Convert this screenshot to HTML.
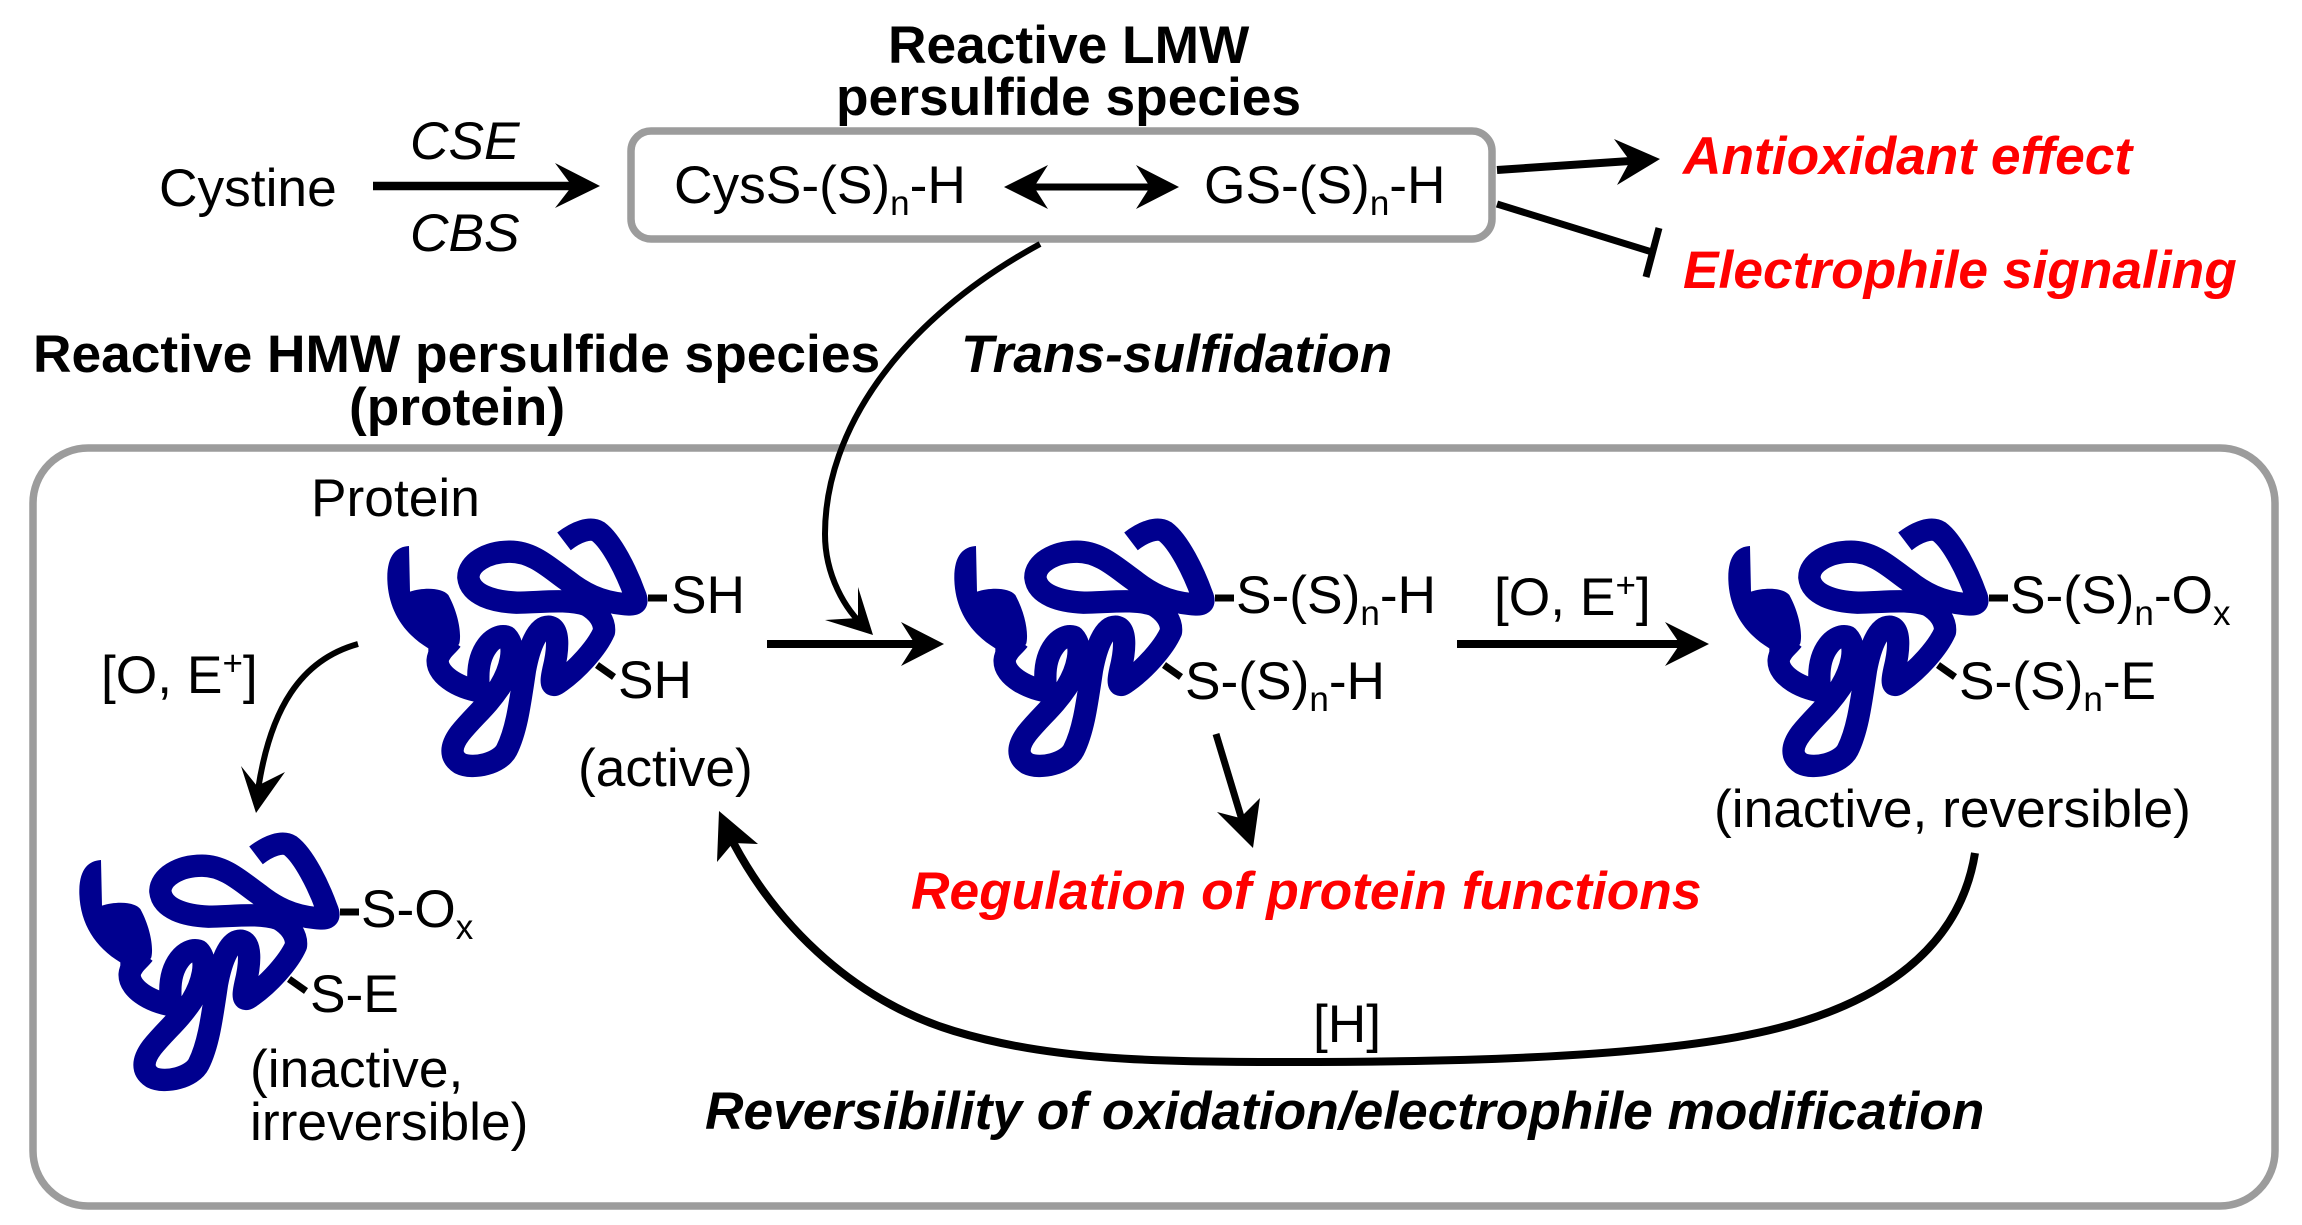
<!DOCTYPE html>
<html><head><meta charset="utf-8"><style>
html,body{margin:0;padding:0;background:#fff}
svg{display:block}
text{font-family:"Liberation Sans",Arial,sans-serif;font-size:53.3px;fill:#000}
.b{font-weight:bold}.i{font-style:italic}.r{fill:#f00}
.s{font-size:35px}
</style></head><body>
<svg width="2302" height="1225" viewBox="0 0 2302 1225" xmlns="http://www.w3.org/2000/svg">
<defs>
<g id="p" transform="translate(360,500) scale(0.33333)">
<path d="M147,138 C110,140 80,165 82,240 C85,330 130,400 205,445 L205,490 L265,485 L298,430 C305,400 295,340 265,285 C245,262 190,262 150,275 Z" fill="#00008f"/>
<g fill="none" stroke="#00008f" stroke-width="67" stroke-linejoin="round">
<path d="M612,124 C650,95 690,80 715,95 C755,125 800,215 825,285 C838,315 820,315 790,312 C720,305 670,280 620,240 C570,205 520,155 450,155 C380,155 325,190 325,232 C330,285 400,305 470,308 C540,308 620,295 680,315 C715,335 735,365 732,395 C710,445 650,510 600,545 C575,565 570,555 580,510 C595,450 600,380 565,380 C535,380 510,430 495,510 C480,610 470,690 440,750 C420,790 340,810 300,790 C270,770 270,740 300,700 C340,650 380,620 420,560 C450,510 470,440 440,410 C400,400 355,450 355,530 L355,575"/>
<path d="M370,575 C310,570 230,530 233,480 C235,455 260,440 275,420"/>
</g>
</g>
</defs>

<!-- boxes -->
<rect x="631" y="131" width="861" height="108" rx="20" fill="none" stroke="#9c9c9c" stroke-width="7.5"/>
<rect x="33" y="448" width="2242" height="758" rx="55" fill="none" stroke="#9c9c9c" stroke-width="7.5"/>

<!-- top labels -->
<text class="b" x="888" y="63">Reactive LMW</text>
<text class="b" x="836" y="115">persulfide species</text>
<text class="i" x="410" y="159">CSE</text>
<text class="i" x="410" y="251">CBS</text>
<text x="159" y="206">Cystine</text>
<text x="674" y="203">CysS-(S)<tspan class="s" dy="12">n</tspan><tspan dy="-12">-H</tspan></text>
<text x="1204" y="203">GS-(S)<tspan class="s" dy="12">n</tspan><tspan dy="-12">-H</tspan></text>
<text class="b i r" x="1683" y="174">Antioxidant effect</text>
<text class="b i r" x="1683" y="288">Electrophile signaling</text>
<text class="b i" x="961" y="372">Trans-sulfidation</text>
<text class="b" x="33" y="372">Reactive HMW persulfide species</text>
<text class="b" x="349" y="425">(protein)</text>
<text x="311" y="516">Protein</text>

<!-- top arrows -->
<line x1="373" y1="186" x2="585" y2="186" stroke="#000" stroke-width="8.5"/>
<polygon points="600,186 555,163 572,186 555,208" fill="#000"/>
<line x1="1020" y1="187" x2="1165" y2="187" stroke="#000" stroke-width="7"/>
<polygon points="1004,187 1048,165 1034,187 1048,209" fill="#000"/>
<polygon points="1179,187 1136,165 1150,187 1136,209" fill="#000"/>
<line x1="1497" y1="170" x2="1645" y2="160" stroke="#000" stroke-width="8"/>
<polygon points="1660,159 1614,139 1630,161 1617,185" fill="#000"/>
<line x1="1497" y1="204" x2="1652" y2="252" stroke="#000" stroke-width="7"/>
<line x1="1659" y1="228" x2="1646" y2="277" stroke="#000" stroke-width="7"/>

<!-- trans-sulfidation curve -->
<path d="M1040,244 C900,320 825,430 825,534 C825,575 845,610 866,628" fill="none" stroke="#000" stroke-width="6"/>
<polygon points="873,635 858,587 858,618 825,620" fill="#000"/>

<!-- proteins -->
<use href="#p"/>
<use href="#p" x="567"/>
<use href="#p" x="1341"/>
<use href="#p" x="-308" y="314"/>

<!-- P1 -->
<line x1="648" y1="598" x2="667" y2="598" stroke="#000" stroke-width="7"/>
<line x1="597" y1="665" x2="614" y2="677" stroke="#000" stroke-width="7"/>
<text x="671" y="613">SH</text>
<text x="618" y="698">SH</text>
<text x="578" y="786">(active)</text>

<!-- P2 -->
<line x1="1215" y1="598" x2="1234" y2="598" stroke="#000" stroke-width="7"/>
<line x1="1164" y1="665" x2="1181" y2="677" stroke="#000" stroke-width="7"/>
<text x="1236" y="613">S-(S)<tspan class="s" dy="12">n</tspan><tspan dy="-12">-H</tspan></text>
<text x="1185" y="699">S-(S)<tspan class="s" dy="12">n</tspan><tspan dy="-12">-H</tspan></text>

<!-- P3 -->
<line x1="1989" y1="598" x2="2008" y2="598" stroke="#000" stroke-width="7"/>
<line x1="1938" y1="665" x2="1955" y2="677" stroke="#000" stroke-width="7"/>
<text x="2010" y="613">S-(S)<tspan class="s" dy="12">n</tspan><tspan dy="-12">-O</tspan><tspan class="s" dy="12">x</tspan></text>
<text x="1959" y="699">S-(S)<tspan class="s" dy="12">n</tspan><tspan dy="-12">-E</tspan></text>
<text x="1714" y="827">(inactive, reversible)</text>

<!-- P4 -->
<line x1="340" y1="912" x2="359" y2="912" stroke="#000" stroke-width="7"/>
<line x1="289" y1="979" x2="306" y2="991" stroke="#000" stroke-width="7"/>
<text x="361" y="927">S-O<tspan class="s" dy="12">x</tspan></text>
<text x="310" y="1012">S-E</text>
<text x="250" y="1087">(inactive,</text>
<text x="250" y="1140">irreversible)</text>

<!-- mid arrows and labels -->
<line x1="767" y1="644" x2="930" y2="644" stroke="#000" stroke-width="8"/>
<polygon points="944,644 901,622 915,644 901,666" fill="#000"/>
<line x1="1457" y1="644" x2="1695" y2="644" stroke="#000" stroke-width="8"/>
<polygon points="1709,644 1665,622 1680,644 1665,666" fill="#000"/>
<text x="1494" y="615">[O, E<tspan class="s" dy="-18">+</tspan><tspan dy="18">]</tspan></text>
<text x="101" y="693">[O, E<tspan class="s" dy="-18">+</tspan><tspan dy="18">]</tspan></text>

<path d="M358,644 C300,660 270,710 258,790" fill="none" stroke="#000" stroke-width="6"/>
<polygon points="256,813 241,766 257,786 285,772" fill="#000"/>

<path d="M1216,734 L1242,820" stroke="#000" stroke-width="7" fill="none"/>
<polygon points="1253,848 1217,812 1240,818 1260,798" fill="#000"/>
<text class="b i r" x="911" y="909">Regulation of protein functions</text>

<path d="M1975,853 C1958,960 1860,1015 1737,1037 C1620,1058 1450,1062 1290,1062 C1150,1062 1050,1060 954,1031 C858,1002 780,930 734,844 L725,825" fill="none" stroke="#000" stroke-width="8"/>
<polygon points="719,811 717,862 733,843 758,844" fill="#000"/>
<text x="1313" y="1042">[H]</text>
<text class="b i" x="705" y="1129">Reversibility of oxidation/electrophile modification</text>
</svg>
</body></html>
